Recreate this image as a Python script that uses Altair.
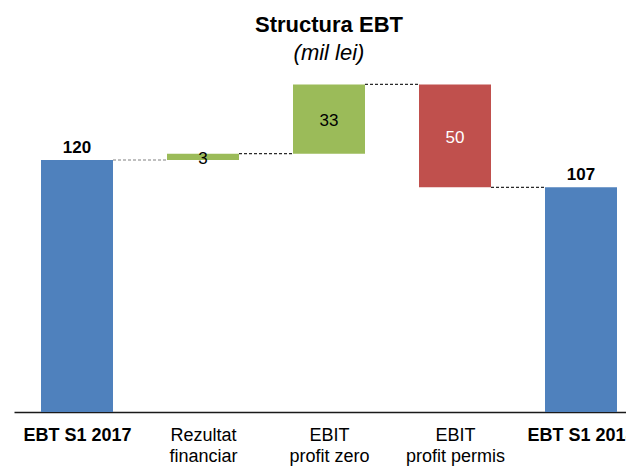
import json
import altair as alt
import pandas as pd

categories = ["EBT S1 2017", "Rezultat\nfinanciar", "EBIT\nprofit zero", "EBIT\nprofit permis", "EBT S1 2018"]
bar_low = [0, 120, 123, 107, 0]
bar_high = [120, 123, 156, 156, 107]
bar_kind = ["total", "up", "up", "down", "total"]
label_text = ["120", "3", "33", "50", "107"]
label_color = ["black", "black", "black", "white", "black"]
connector_level = [120, 123, 156, 107]

FONT = "Liberation Sans"
WIDTH = 612
HEIGHT = 336
STEP_PX = 126            # distance between category centres in pixels
HALF = 36 / STEP_PX      # half bar width, in category units

n = len(categories)
df = pd.DataFrame({
    "idx": list(range(n)),
    "cat": categories,
    "low": bar_low,
    "high": bar_high,
    "kind": bar_kind,
    "label": label_text,
    "lcolor": label_color,
})
df["mid"] = (df["low"] + df["high"]) / 2
df["x0"] = df["idx"] - HALF
df["x1"] = df["idx"] + HALF

conn = pd.DataFrame({"seg": list(range(n - 1)), "level": connector_level})
conn["x0"] = conn["seg"] + HALF
conn["x1"] = conn["seg"] + 1 - HALF

xscale = alt.Scale(domain=[-0.5, -0.5 + WIDTH / STEP_PX], nice=False, zero=False, padding=0)
yscale = alt.Scale(domain=[0, 160], nice=False, padding=0)

label_lines = [c.split("\n") if "\n" in c else c for c in categories]
bold_test = " || ".join(f"datum.value == {i}" for i, k in enumerate(bar_kind) if k == "total")

xaxis = alt.Axis(
    title=None,
    values=list(range(n)),
    ticks=False,
    grid=False,
    labelAngle=0,
    labelFont=FONT,
    labelFontSize=18,
    labelColor="black",
    labelPadding=14,
    labelLineHeight=21.5,
    labelExpr=json.dumps(label_lines) + "[datum.value]",
    labelFontWeight={"condition": {"test": bold_test, "value": "bold"}, "value": "normal"},
    labelOverlap=False,
    labelBound=False,
    labelFlush=False,
    labelLimit=0,
    domainColor="#1a1a1a",
    domainWidth=1.5,
)

base = alt.Chart(df)

connectors = alt.Chart(conn).mark_rule(strokeDash=[3, 2], strokeWidth=1.2).encode(
    x=alt.X("x0:Q", scale=xscale, axis=xaxis),
    x2="x1:Q",
    y=alt.Y("level:Q", scale=yscale, axis=None),
    color=alt.condition("datum.seg == 0", alt.value("#808080"), alt.value("#2b2b2b")),
)

bars = base.mark_bar().encode(
    x=alt.X("x0:Q", scale=xscale, axis=xaxis),
    x2="x1:Q",
    y=alt.Y("low:Q", scale=yscale, axis=None),
    y2="high:Q",
    color=alt.Color("kind:N", scale=alt.Scale(domain=["total", "up", "down"],
                                               range=["#4F81BD", "#9BBB59", "#C0504D"]), legend=None),
)

total_labels = base.transform_filter("datum.kind == 'total'").mark_text(
    font=FONT, fontSize=17, fontWeight="bold", baseline="alphabetic", dy=-7, color="black"
).encode(
    x=alt.X("idx:Q", scale=xscale, axis=xaxis),
    y=alt.Y("high:Q", scale=yscale, axis=None),
    text="label:N",
)

delta_labels = base.transform_filter("datum.kind != 'total'").mark_text(
    font=FONT, fontSize=17, baseline="middle", dy=2
).encode(
    x=alt.X("idx:Q", scale=xscale, axis=xaxis),
    y=alt.Y("mid:Q", scale=yscale, axis=None),
    text="label:N",
    color=alt.Color("lcolor:N", scale=None),
)

chart = alt.layer(connectors, bars, total_labels, delta_labels).properties(
    width=WIDTH,
    height=HEIGHT,
    autosize=alt.AutoSizeParams(type="none"),
    padding={"left": 6, "top": 68, "right": 0, "bottom": 54},
    title=alt.TitleParams(
        "Structura EBT",
        subtitle="(mil lei)",
        font=FONT,
        fontSize=22,
        fontWeight="bold",
        color="black",
        subtitleFont=FONT,
        subtitleFontSize=22,
        subtitleFontStyle="italic",
        subtitleColor="black",
        subtitlePadding=6,
        anchor="middle",
        offset=11,
        dx=9,
    ),
).configure_view(stroke=None)

chart.save("out.html", embed_options={"renderer": "svg", "actions": False})
